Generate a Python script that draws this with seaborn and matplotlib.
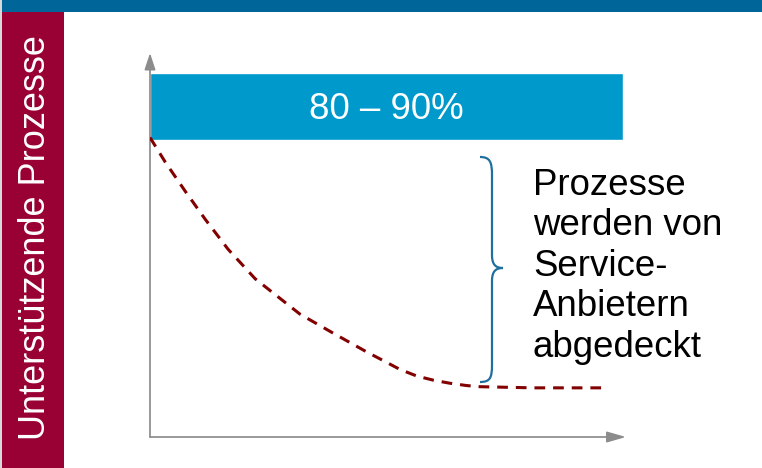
import matplotlib
matplotlib.use("Agg")
import matplotlib.pyplot as plt
import seaborn as sns
import pandas as pd
from matplotlib.patches import Rectangle, PathPatch
from matplotlib.path import Path

# ---------------- data ----------------
side_label = "Unterstützende Prozesse"
band_label = "80 – 90%"
band_range = [77.3, 94.8]      # vertical extent of the share band (chart units)
band_extent = 99.4             # horizontal extent of the share band (chart units)
curve_x = [0, 3.2, 7.4, 11.6, 16.4, 22.1, 31.5, 38.4, 45.6, 49.0, 52.5, 56.0, 59.5, 63.0, 66.5, 69.3, 80.5, 95.2]
curve_y = [78.0, 71.6, 64.0, 56.7, 48.9, 41.2, 32.0, 27.1, 22.1, 19.9, 17.6, 15.9, 14.8, 14.0, 13.4, 13.1, 12.8, 12.8]
note_lines = ["Prozesse", "werden von", "Service-", "Anbietern", "abgedeckt"]

# ---------------- style ----------------
sns.set_theme(style="white")
plt.rcParams["font.family"] = ["Liberation Sans", "DejaVu Sans"]

W, H = 762, 468
fig = plt.figure(figsize=(W / 100, H / 100), dpi=100)

# overlay (pixel space) for page decoration
ov = fig.add_axes([0, 0, 1, 1])
ov.set_xlim(0, W)
ov.set_ylim(H, 0)
ov.axis("off")
ov.add_patch(Rectangle((0, 0), 2, H, color="#d9d9d9", lw=0))
ov.add_patch(Rectangle((2, 5), 62, H - 5, color="#990033", lw=0))
ov.add_patch(Rectangle((2, 0), W - 2, 12, color="#006699", lw=0))
ov.text(45, 237.5, side_label, rotation=90, rotation_mode="anchor",
        ha="center", va="baseline", color="white", fontsize=26)

# curly brace
verts = [(480, 157), (490, 157), (492, 162), (492, 175),
         (492, 255),
         (492, 265), (496, 268), (503, 268),
         (496, 268), (492, 271), (492, 281),
         (492, 365),
         (492, 378), (490, 382), (480, 382)]
codes = [Path.MOVETO, Path.CURVE4, Path.CURVE4, Path.CURVE4,
         Path.LINETO,
         Path.CURVE4, Path.CURVE4, Path.CURVE4,
         Path.CURVE4, Path.CURVE4, Path.CURVE4,
         Path.LINETO,
         Path.CURVE4, Path.CURVE4, Path.CURVE4]
ov.add_patch(PathPatch(Path(verts, codes), fill=False, edgecolor="#1f6f9f", lw=1.6, zorder=5))

for i, line in enumerate(note_lines):
    ov.text(533, 195 + 40.4 * i, line, ha="left", va="baseline",
            color="#000000", fontsize=26.4)

# main chart axes
ax = fig.add_axes([150 / W, 31 / H, 476 / W, 384 / H])
ax.patch.set_visible(False)

ax.barh(y=(band_range[0] + band_range[1]) / 2, width=band_extent,
        height=band_range[1] - band_range[0], left=0, color="#0099CC", zorder=1)
ax.text(band_extent / 2, 82.8, band_label, ha="center", va="baseline",
        color="white", fontsize=26.4, zorder=3)

df = pd.DataFrame({"x": curve_x, "y": curve_y})
sns.lineplot(data=df, x="x", y="y", ax=ax, color="#820000", linewidth=2.2, zorder=4)
ln = ax.lines[-1]
ln.set_linewidth(2.2)
ln.set_dashes([3.5, 2.6])
ln.set_dash_capstyle("butt")

ax.set_xlim(0, 100)
ax.set_ylim(0, 100)
ax.axis("off")

gray = "#8c8c8c"
ax.annotate("", xy=(0, 1), xytext=(0, 0), xycoords="axes fraction",
            arrowprops=dict(arrowstyle="-|>,head_length=1.0,head_width=0.33",
                            color=gray, lw=1.25, shrinkA=0, shrinkB=0,
                            mutation_scale=10))
ax.annotate("", xy=(1, 0), xytext=(0, 0), xycoords="axes fraction",
            arrowprops=dict(arrowstyle="-|>,head_length=1.15,head_width=0.33",
                            color=gray, lw=1.25, shrinkA=0, shrinkB=0,
                            mutation_scale=10))

fig.savefig("out.png", dpi=100)
